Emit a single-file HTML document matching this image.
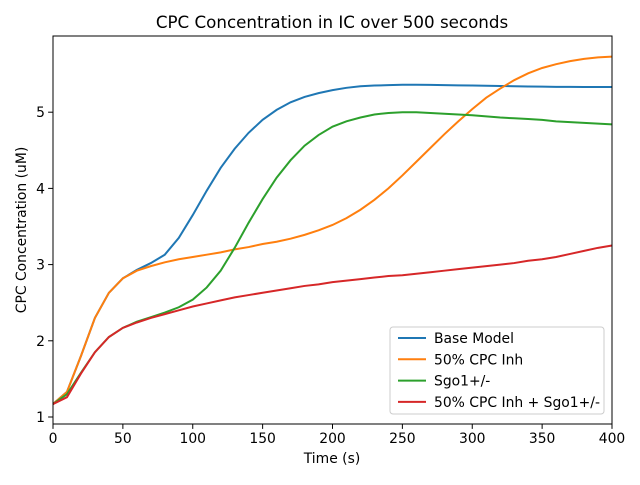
<!DOCTYPE html>
<html><head><meta charset="utf-8"><style>
body{margin:0;background:#fff;}
svg text{font-family:"DejaVu Sans","Liberation Sans",sans-serif;fill:#000;}
</style></head><body>
<svg id="chart" width="640" height="480" xmlns="http://www.w3.org/2000/svg">
<rect width="640" height="480" fill="#fff"/>
<text x="332" y="28" font-size="16.7" text-anchor="middle">CPC Concentration in IC over 500 seconds</text>
<g id="plot"></g>
<rect x="53" y="36" width="559" height="388" fill="none" stroke="#000" stroke-width="1"/>
<text x="332" y="463" font-size="13.9" text-anchor="middle">Time (s)</text>
<text transform="translate(26,230) rotate(-90)" font-size="13.9" text-anchor="middle">CPC Concentration (uM)</text>
<g id="legend"></g>
</svg>
<script>
const times=[0,10,20,30,40,50,60,70,80,90,100,110,120,130,140,150,160,170,180,190,200,210,220,230,240,250,260,270,280,290,300,310,320,330,340,350,360,370,380,390,400];
const baseModel=[1.17,1.33,1.8,2.3,2.63,2.82,2.93,3.02,3.13,3.35,3.65,3.97,4.27,4.52,4.73,4.9,5.03,5.13,5.2,5.25,5.29,5.32,5.34,5.35,5.355,5.36,5.36,5.358,5.355,5.352,5.35,5.347,5.344,5.34,5.338,5.335,5.333,5.332,5.331,5.33,5.33];
const cpcInh=[1.17,1.33,1.8,2.3,2.63,2.82,2.92,2.98,3.03,3.07,3.1,3.13,3.16,3.2,3.23,3.27,3.3,3.34,3.39,3.45,3.52,3.61,3.72,3.85,4.0,4.17,4.35,4.53,4.71,4.88,5.04,5.19,5.31,5.42,5.51,5.58,5.63,5.67,5.7,5.72,5.73];
const sgo1=[1.17,1.3,1.58,1.85,2.05,2.17,2.25,2.31,2.37,2.44,2.54,2.7,2.92,3.22,3.55,3.86,4.14,4.37,4.56,4.7,4.81,4.88,4.93,4.97,4.99,5.0,5.0,4.99,4.98,4.97,4.96,4.945,4.93,4.92,4.91,4.9,4.88,4.87,4.86,4.85,4.84];
const combo=[1.17,1.26,1.57,1.85,2.05,2.17,2.24,2.3,2.35,2.4,2.45,2.49,2.53,2.57,2.6,2.63,2.66,2.69,2.72,2.74,2.77,2.79,2.81,2.83,2.85,2.86,2.88,2.9,2.92,2.94,2.96,2.98,3.0,3.02,3.05,3.07,3.1,3.14,3.18,3.22,3.25];
const xTicks=[0,50,100,150,200,250,300,350,400];
const yTicks=[1,2,3,4,5];
const seriesNames=["Base Model","50% CPC Inh","Sgo1+/-","50% CPC Inh + Sgo1+/-"];
const seriesColors=["#1f77b4","#ff7f0e","#2ca02c","#d62728"];
const seriesData=[baseModel,cpcInh,sgo1,combo];

const NS="http://www.w3.org/2000/svg";
const X0=53,X1=612,Y0=424,Y1=36,YMIN=0.908,YMAX=6.0;
const xs=v=>X0+(v-0)/(400-0)*(X1-X0);
const ys=v=>Y0-(v-YMIN)/(YMAX-YMIN)*(Y0-Y1);
function mk(tag,attrs,parent){const e=document.createElementNS(NS,tag);for(const k in attrs)e.setAttribute(k,attrs[k]);parent.appendChild(e);return e;}
const plot=document.getElementById('plot');
xTicks.forEach(t=>{
  const l=mk('line',{x1:xs(t),x2:xs(t),y1:Y0,y2:Y0+4.9,stroke:'#000'},plot);
  
  
  const tx=mk('text',{x:xs(t),y:Y0+19,'font-size':'13.9','text-anchor':'middle'},plot);
  tx.textContent=t;
  
  
});
yTicks.forEach(t=>{
  const l=mk('line',{x1:X0-4.9,x2:X0,y1:ys(t),y2:ys(t),stroke:'#000'},plot);
  
  
  const tx=mk('text',{x:X0-8,y:ys(t)+5,'font-size':'13.9','text-anchor':'end'},plot);
  tx.textContent=t;
  
  
});
seriesData.forEach((d,i)=>{
  const pts=d.map((v,j)=>xs(times[j]).toFixed(2)+','+ys(v).toFixed(2)).join(' ');
  const p=mk('polyline',{points:pts,fill:'none',stroke:seriesColors[i],'stroke-width':'2'},plot);
  
  
});
const lg=document.getElementById('legend');
const box=mk('rect',{x:390,y:327,width:214,height:87,rx:3,fill:'#fff','fill-opacity':'0.8',stroke:'#ccc'},lg);


seriesNames.forEach((n,i)=>{
  const y=338+i*21.3;
  const l=mk('line',{x1:398,x2:426,y1:y,y2:y,stroke:seriesColors[i],'stroke-width':'2'},lg);
  
  
  const t=mk('text',{x:434,y:y+5,'font-size':'13.9'},lg);
  t.textContent=n;
  
  
});
</script>
</body></html>
